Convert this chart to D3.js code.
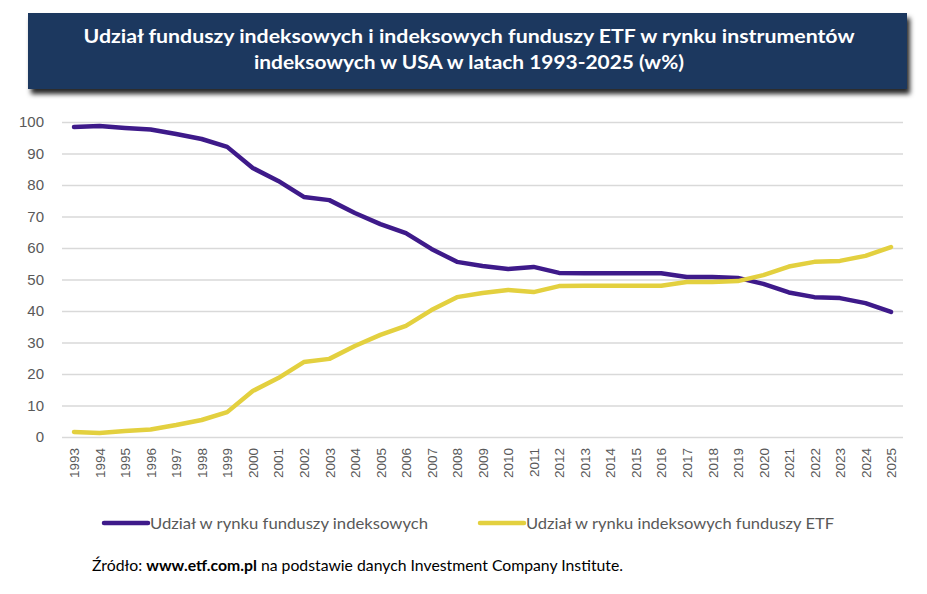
<!DOCTYPE html>
<html lang="pl">
<head>
    <meta charset="UTF-8">
    <title>Udział funduszy indeksowych i ETF</title>
    <script src="https://d3js.org/d3.v7.min.js"></script>
    <style>
        body { margin: 0; background: #fff; }
        svg { display: block; }
    </style>
</head>
<body>
    <div id="chart-container">
        <svg width="927" height="594"></svg>
    </div>
    <script>
        const years = d3.range(1993, 2026);
        const indexShare = [98.4, 98.7, 98.1, 97.6, 96.2, 94.6, 92.1, 85.4, 81.3, 76.2, 75.2, 71.1, 67.6, 64.7,
            59.7, 55.6, 54.3, 53.3, 54.0, 52.1, 52.0, 52.0, 52.0, 52.0, 50.8, 50.8, 50.5, 48.6, 45.9, 44.4,
            44.1, 42.5, 39.7];
        const etfShare = [1.6, 1.3, 1.9, 2.4, 3.8, 5.4, 7.9, 14.6, 18.7, 23.8, 24.8, 28.9, 32.4, 35.3,
            40.3, 44.4, 45.7, 46.7, 46.0, 47.9, 48.0, 48.0, 48.0, 48.0, 49.2, 49.2, 49.5, 51.4, 54.1, 55.6,
            55.9, 57.5, 60.3];
        const yTicks = [0, 10, 20, 30, 40, 50, 60, 70, 80, 90, 100];
        const seriesNames = ["Udział w rynku funduszy indeksowych", "Udział w rynku indeksowych funduszy ETF"];
        const seriesColors = ["#3e1a8a", "#e3d03f"];

        const svg = d3.select("#chart-container svg");

        // ramka tytułu z cieniem
        const defs = svg.append("defs");
        const shadow = defs.append("filter").attr("id", "shadow")
            .attr("x", "-5%").attr("y", "-20%").attr("width", "110%").attr("height", "150%");
        shadow.append("feDropShadow")
            .attr("dx", 3).attr("dy", 5).attr("stdDeviation", 2.5)
            .attr("flood-color", "#000").attr("flood-opacity", 0.85);

        svg.append("rect")
            .attr("x", 28).attr("y", 13)
            .attr("width", 879).attr("height", 76)
            .attr("fill", "#1b375e")
            .attr("filter", "url(#shadow)");

        const titleLines = [
            "Udział funduszy indeksowych i indeksowych funduszy ETF w rynku instrumentów",
            "indeksowych w USA w latach 1993-2025 (w%)"
        ];
        const titleWidths = [771, 430];
        svg.selectAll(".title")
            .data(titleLines)
            .enter()
            .append("text")
            .attr("class", "title")
            .attr("x", 469)
            .attr("y", (d, i) => 43 + i * 26)
            .attr("text-anchor", "middle")
            .attr("fill", "#fff")
            .style("font-family", "Lato, 'Open Sans', sans-serif")
            .style("font-weight", "bold")
            .style("font-size", "19px")
            .attr("textLength", (d, i) => titleWidths[i])
            .attr("lengthAdjust", "spacingAndGlyphs")
            .text(d => d);

        const x = d3.scalePoint()
            .domain(years)
            .range([74, 891]);

        const y = d3.scaleLinear()
            .domain([0, 100])
            .range([437, 122]);

        // siatka i oś Y
        const yAxis = svg.append("g")
            .attr("transform", "translate(62,0)")
            .call(d3.axisLeft(y).tickValues(yTicks).tickSize(-841).tickPadding(18));
        yAxis.select(".domain").remove();
        yAxis.selectAll("line").attr("stroke", "#d9d9d9").attr("stroke-width", 1.5);
        yAxis.selectAll("text")
            .attr("fill", "#595959")
            .style("font-family", "'Liberation Sans', Arial, sans-serif")
            .style("font-size", "15px");

        // oś X
        const xAxis = svg.append("g")
            .attr("transform", "translate(0,437)")
            .call(d3.axisBottom(x).tickSize(0).tickFormat(d3.format("d")));
        xAxis.select(".domain").remove();
        xAxis.selectAll("text")
            .attr("transform", "rotate(-90)")
            .attr("text-anchor", "end")
            .attr("x", -11)
            .attr("y", 0)
            .attr("dy", "0.35em")
            .attr("fill", "#595959")
            .style("font-family", "'Liberation Sans', Arial, sans-serif")
            .style("font-size", "13.5px");

        const line = d3.line()
            .x((d, i) => x(years[i]))
            .y(d => y(d));

        [indexShare, etfShare].forEach((values, k) => {
            svg.append("path")
                .datum(values)
                .attr("fill", "none")
                .attr("stroke", seriesColors[k])
                .attr("stroke-width", 4.5)
                .attr("stroke-linecap", "round")
                .attr("stroke-linejoin", "round")
                .attr("d", line);
        });

        // legenda
        const legendX = [104, 480];
        const legendWidths = [278, 308];
        const legend = svg.selectAll(".legend")
            .data(seriesNames)
            .enter()
            .append("g")
            .attr("class", "legend")
            .attr("transform", (d, i) => `translate(${legendX[i]},523)`);
        legend.append("line")
            .attr("x1", 0).attr("x2", 44)
            .attr("stroke", (d, i) => seriesColors[i])
            .attr("stroke-width", 4.5)
            .attr("stroke-linecap", "round");
        legend.append("text")
            .attr("x", 46)
            .attr("y", 5.5)
            .attr("fill", "#595959")
            .style("font-family", "Lato, 'Open Sans', sans-serif")
            .style("font-size", "15px")
            .attr("textLength", (d, i) => legendWidths[i])
            .attr("lengthAdjust", "spacingAndGlyphs")
            .text(d => d);

        // źródło
        const source = svg.append("text")
            .attr("x", 92)
            .attr("y", 571)
            .attr("fill", "#000")
            .style("font-family", "Lato, 'Open Sans', sans-serif")
            .style("font-size", "16px")
            .attr("textLength", 531)
            .attr("lengthAdjust", "spacingAndGlyphs");
        source.append("tspan").text("Źródło: ");
        source.append("tspan").style("font-weight", "bold").text("www.etf.com.pl");
        source.append("tspan").text(" na podstawie danych Investment Company Institute.");
    </script>
</body>
</html>
